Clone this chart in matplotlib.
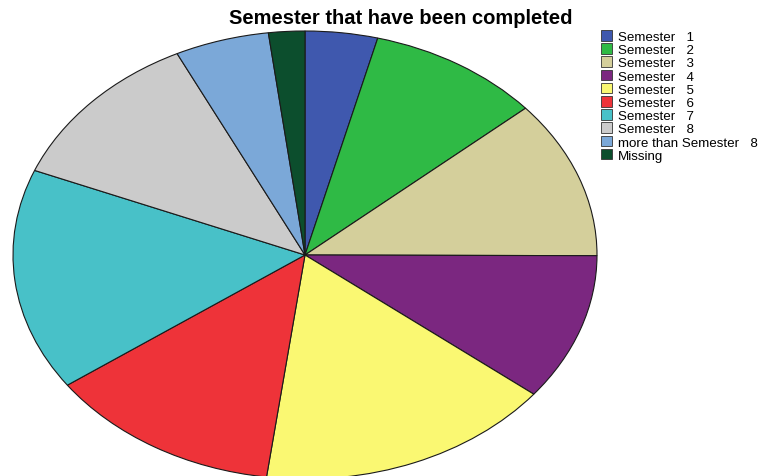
import matplotlib.pyplot as plt

labels = ["Semester   1", "Semester   2", "Semester   3", "Semester   4",
          "Semester   5", "Semester   6", "Semester   7", "Semester   8",
          "more than Semester   8", "Missing"]
shares = [4.0, 9.6, 11.4, 10.6, 16.4, 13.0, 16.0, 11.6, 5.2, 2.0]
colors = ["#3f58ae", "#2fba45", "#d4cf9b", "#7b2780", "#faf872",
          "#ee3339", "#48c1c8", "#cbcbcb", "#7ba8d8", "#0c4e2d"]

plt.rcParams['font.family'] = ['Liberation Sans', 'DejaVu Sans']

W, H = 760, 477
fig = plt.figure(figsize=(W / 100, H / 100), dpi=100)

# stretched pie: axes box sized to the ellipse, aspect left free
left, top, right, bottom = 13, 32, 597, 480
ax = fig.add_axes([left / W, (H - bottom) / H, (right - left) / W, (bottom - top) / H])
wedges, _ = ax.pie(shares, colors=colors, startangle=90, counterclock=False,
                   wedgeprops=dict(edgecolor="#1a1a1a", linewidth=0.8))
ax.set_aspect('auto')
ax.set_xlim(-1, 1)
ax.set_ylim(-1, 1)
ax.axis('off')
for w in wedges:
    w.set_clip_on(False)

fig.text(401 / W, 1 - 19 / H, "Semester that have been completed",
         ha='center', va='center', fontsize=14.5, fontweight='bold')

leg = fig.legend(wedges, labels, loc='upper left',
                 bbox_to_anchor=(601 / W, 1 - 31 / H),
                 frameon=False, fontsize=9.6, handlelength=0.85, handleheight=0.85,
                 handletextpad=0.4, labelspacing=0.02, borderpad=0, borderaxespad=0)
for h in leg.legend_handles:
    h.set_edgecolor("#333333")
    h.set_linewidth(0.6)

fig.savefig("out.png", dpi=100)
